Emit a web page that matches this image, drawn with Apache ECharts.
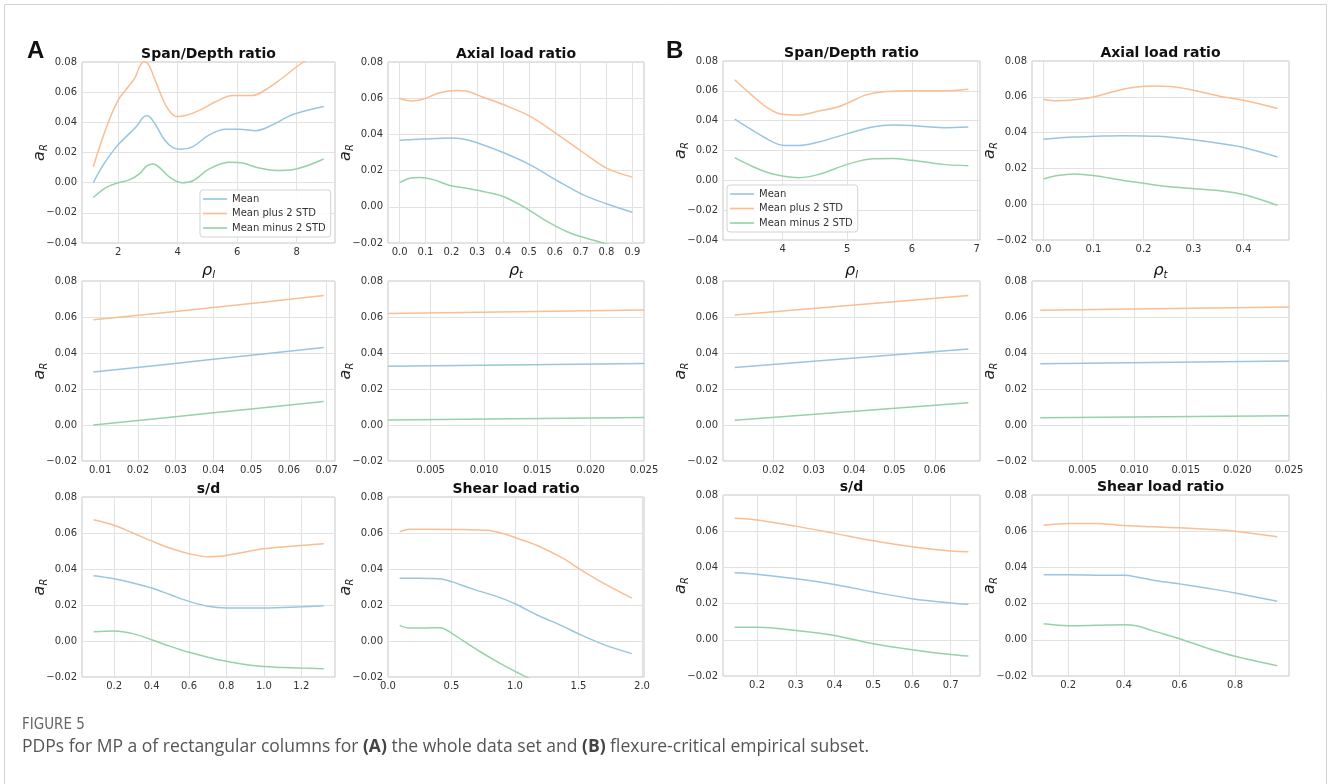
<!DOCTYPE html>
<html><head><meta charset="utf-8">
<script src="https://cdn.jsdelivr.net/npm/echarts@6/dist/echarts.min.js"></script>
<style>html,body{margin:0;padding:0;background:#fff}#c{width:1328px;height:784px}</style>
</head><body><div id="c"></div>
<script>
// ---------------- DATA ----------------
const seriesNames = ['Mean', 'Mean plus 2 STD', 'Mean minus 2 STD'];

// (A) whole data set
const A1_ticks = ['2','4','6','8'];
const A1_mean  = [[1.16,0.0],[1.5,0.012],[1.94,0.0239],[2.33,0.0317],[2.61,0.0372],[2.84,0.0434],[2.98,0.0443],[3.22,0.0394],[3.56,0.0283],[3.84,0.0232],[4.12,0.0221],[4.51,0.0239],[5.06,0.0317],[5.62,0.0354],[6.07,0.0354],[6.63,0.0345],[7.18,0.0383],[7.85,0.045],[8.91,0.0505]];
const A1_plus  = [[1.16,0.0106],[1.61,0.0372],[2.0,0.0549],[2.33,0.0634],[2.56,0.0694],[2.72,0.0771],[2.87,0.0802],[3.02,0.0782],[3.28,0.066],[3.62,0.0505],[3.95,0.0439],[4.29,0.0447],[4.73,0.0479],[5.29,0.0538],[5.85,0.0578],[6.52,0.0578],[6.96,0.0616],[7.52,0.0694],[8.08,0.078],[8.36,0.0815],[8.91,0.088]];
const A1_minus = [[1.16,-0.0098],[1.61,-0.0029],[2.0,0.0],[2.39,0.002],[2.72,0.006],[2.95,0.0109],[3.17,0.0124],[3.4,0.0098],[3.73,0.0036],[4.12,0.0],[4.51,0.0013],[5.06,0.0091],[5.73,0.0135],[6.18,0.013],[6.74,0.0097],[7.3,0.0081],[7.85,0.0086],[8.91,0.0157]];

const A2_ticks = ['0.0','0.1','0.2','0.3','0.4','0.5','0.6','0.7','0.8','0.9'];
const A2_mean  = [[0,0.0367],[0.09,0.0374],[0.194,0.038],[0.246,0.0374],[0.31,0.0348],[0.40,0.030],[0.505,0.0232],[0.61,0.0144],[0.71,0.0066],[0.80,0.0017],[0.9,-0.003]];
const A2_plus  = [[0,0.060],[0.045,0.0585],[0.09,0.0594],[0.155,0.063],[0.22,0.0642],[0.26,0.0638],[0.32,0.0607],[0.40,0.0565],[0.505,0.05],[0.61,0.040],[0.71,0.030],[0.80,0.0214],[0.9,0.0164]];
const A2_minus = [[0,0.0134],[0.04,0.0158],[0.078,0.0162],[0.13,0.015],[0.194,0.0118],[0.27,0.010],[0.336,0.0081],[0.40,0.0057],[0.48,0.0],[0.57,-0.008],[0.66,-0.0145],[0.75,-0.0185],[0.8,-0.0205],[0.9,-0.0245]];

const A3_ticks = ['0.01','0.02','0.03','0.04','0.05','0.06','0.07'];
const A3_mean  = [[0.0082,0.0294],[0.0387,0.0362],[0.0692,0.0430]];
const A3_plus  = [[0.0082,0.0585],[0.0387,0.0650],[0.0692,0.0720]];
const A3_minus = [[0.0082,0.0],[0.0387,0.0065],[0.0692,0.0130]];

const A4_ticks = ['0.005','0.010','0.015','0.020','0.025'];
const A4_mean  = [[0.001,0.0326],[0.025,0.0342]];
const A4_plus  = [[0.001,0.0620],[0.025,0.0639]];
const A4_minus = [[0.001,0.0028],[0.025,0.0041]];

const A5_ticks = ['0.2','0.4','0.6','0.8','1.0','1.2'];
const A5_mean  = [[0.09,0.0363],[0.2,0.0346],[0.3,0.0322],[0.4,0.0294],[0.5,0.0257],[0.6,0.022],[0.7,0.0193],[0.8,0.0183],[1.0,0.0183],[1.2,0.019],[1.32,0.0196]];
const A5_plus  = [[0.09,0.0674],[0.2,0.0643],[0.3,0.060],[0.4,0.0556],[0.5,0.0515],[0.6,0.0485],[0.7,0.0468],[0.78,0.0472],[0.9,0.0495],[1.0,0.0513],[1.2,0.0531],[1.32,0.054]];
const A5_minus = [[0.09,0.0052],[0.2,0.0056],[0.3,0.0041],[0.4,0.0007],[0.5,-0.003],[0.6,-0.0063],[0.7,-0.009],[0.8,-0.0113],[0.9,-0.013],[1.0,-0.0141],[1.2,-0.015],[1.32,-0.0154]];

const A6_ticks = ['0.0','0.5','1.0','1.5','2.0'];
const A6_mean  = [[0.092,0.0349],[0.33,0.0347],[0.42,0.0345],[0.5,0.033],[0.67,0.0288],[0.855,0.0248],[1.0,0.0207],[1.17,0.0146],[1.38,0.0081],[1.5,0.004],[1.7,-0.002],[1.92,-0.007]];
const A6_plus  = [[0.092,0.0606],[0.17,0.0621],[0.33,0.0621],[0.59,0.0619],[0.78,0.0615],[0.91,0.0596],[1.0,0.0575],[1.17,0.0532],[1.38,0.0459],[1.5,0.0404],[1.7,0.032],[1.92,0.0238]];
const A6_minus = [[0.092,0.0087],[0.17,0.0072],[0.28,0.0072],[0.41,0.0074],[0.5,0.0044],[0.59,0.0002],[0.72,-0.0057],[0.855,-0.0113],[1.0,-0.0169],[1.09,-0.02],[1.2,-0.024],[1.3,-0.027]];

// (B) flexure-critical empirical subset
const B1_ticks = ['4','5','6','7'];
const B1_mean  = [[3.26,0.0411],[3.52,0.034],[3.78,0.0273],[4.0,0.0235],[4.25,0.0233],[4.56,0.0257],[5.0,0.0313],[5.39,0.0358],[5.7,0.0371],[6.0,0.0367],[6.48,0.0353],[6.87,0.0358]];
const B1_plus  = [[3.26,0.0674],[3.52,0.0573],[3.78,0.0483],[4.0,0.0443],[4.25,0.0438],[4.56,0.0465],[4.82,0.0488],[5.0,0.0517],[5.29,0.0573],[5.6,0.0596],[6.0,0.06],[6.48,0.060],[6.87,0.0611]];
const B1_minus = [[3.26,0.0152],[3.52,0.0096],[3.78,0.0051],[4.0,0.0029],[4.25,0.0018],[4.56,0.004],[5.0,0.0107],[5.39,0.0145],[5.7,0.0147],[6.0,0.0134],[6.48,0.0107],[6.87,0.0098]];

const B2_ticks = ['0.0','0.1','0.2','0.3','0.4'];
const B2_mean  = [[0,0.0363],[0.061,0.0375],[0.1,0.0379],[0.16,0.0383],[0.23,0.0379],[0.3,0.036],[0.36,0.0336],[0.4,0.0317],[0.468,0.0264]];
const B2_plus  = [[0,0.0585],[0.028,0.0578],[0.061,0.0583],[0.097,0.0597],[0.135,0.0625],[0.175,0.065],[0.215,0.0661],[0.255,0.0658],[0.3,0.0637],[0.35,0.0605],[0.4,0.0581],[0.468,0.0535]];
const B2_minus = [[0,0.0141],[0.028,0.016],[0.061,0.0169],[0.1,0.016],[0.16,0.0132],[0.2,0.0117],[0.248,0.0099],[0.3,0.0086],[0.36,0.0073],[0.4,0.0054],[0.468,-0.0006]];

const B3_ticks = ['0.02','0.03','0.04','0.05','0.06'];
const B3_mean  = [[0.0104,0.0320],[0.0683,0.0422]];
const B3_plus  = [[0.0104,0.0611],[0.0683,0.0720]];
const B3_minus = [[0.0104,0.0027],[0.0683,0.0124]];

const B4_ticks = ['0.005','0.010','0.015','0.020','0.025'];
const B4_mean  = [[0.0009,0.0340],[0.025,0.0356]];
const B4_plus  = [[0.0009,0.0637],[0.025,0.0655]];
const B4_minus = [[0.0009,0.0040],[0.025,0.0051]];

const B5_ticks = ['0.2','0.3','0.4','0.5','0.6','0.7'];
const B5_mean  = [[0.142,0.037],[0.2,0.0362],[0.3,0.0337],[0.4,0.0306],[0.5,0.0264],[0.6,0.0227],[0.7,0.0203],[0.746,0.0196]];
const B5_plus  = [[0.142,0.0671],[0.2,0.0662],[0.3,0.0628],[0.4,0.0588],[0.5,0.0547],[0.6,0.0514],[0.7,0.049],[0.746,0.0486]];
const B5_minus = [[0.142,0.007],[0.2,0.007],[0.3,0.0052],[0.4,0.0024],[0.5,-0.0022],[0.6,-0.0055],[0.7,-0.0081],[0.746,-0.009]];

const B6_ticks = ['0.2','0.4','0.6','0.8'];
const B6_mean  = [[0.112,0.0359],[0.2,0.0359],[0.3,0.0357],[0.4,0.0356],[0.45,0.0346],[0.5,0.0331],[0.6,0.0309],[0.7,0.0285],[0.8,0.0259],[0.952,0.0213]];
const B6_plus  = [[0.112,0.0633],[0.2,0.0643],[0.3,0.0643],[0.4,0.0631],[0.5,0.0624],[0.6,0.0619],[0.7,0.0611],[0.8,0.060],[0.952,0.0569]];
const B6_minus = [[0.112,0.0089],[0.2,0.0078],[0.3,0.008],[0.4,0.0083],[0.45,0.0076],[0.5,0.0052],[0.6,0.0006],[0.7,-0.0046],[0.8,-0.0091],[0.952,-0.0143]];

// ---------------- PANELS (axis ranges + layout) ----------------
const TITLE_BOLD = 'b', TITLE_RHO_L = 'rl', TITLE_RHO_T = 'rt';
const panels = [
  {title:'Span/Depth ratio', kind:TITLE_BOLD, xmin:0.78, xmax:9.29, ymin:-0.04, ticks:A1_ticks, d:[A1_mean,A1_plus,A1_minus], g:[82,62,253,181], ty:61},
  {title:'Axial load ratio', kind:TITLE_BOLD, xmin:-0.045, xmax:0.945, ymin:-0.02, ticks:A2_ticks, d:[A2_mean,A2_plus,A2_minus], g:[388,62,256,181], ty:61},
  {title:'', kind:TITLE_RHO_L, xmin:0.0052, xmax:0.0722, ymin:-0.02, ticks:A3_ticks, d:[A3_mean,A3_plus,A3_minus], g:[82,281,253,180], ty:280},
  {title:'', kind:TITLE_RHO_T, xmin:0.001, xmax:0.025, ymin:-0.02, ticks:A4_ticks, d:[A4_mean,A4_plus,A4_minus], g:[388,281,256,180], ty:280},
  {title:'s/d', kind:TITLE_BOLD, xmin:0.028, xmax:1.38, ymin:-0.02, ticks:A5_ticks, d:[A5_mean,A5_plus,A5_minus], g:[82,497,253,180], ty:496},
  {title:'Shear load ratio', kind:TITLE_BOLD, xmin:0.0, xmax:2.016, ymin:-0.02, ticks:A6_ticks, d:[A6_mean,A6_plus,A6_minus], g:[388,497,256,180], ty:496},
  {title:'Span/Depth ratio', kind:TITLE_BOLD, xmin:3.08, xmax:7.05, ymin:-0.04, ticks:B1_ticks, d:[B1_mean,B1_plus,B1_minus], g:[723,61,257,179], ty:60},
  {title:'Axial load ratio', kind:TITLE_BOLD, xmin:-0.023, xmax:0.491, ymin:-0.02, ticks:B2_ticks, d:[B2_mean,B2_plus,B2_minus], g:[1032,61,257,179], ty:60},
  {title:'', kind:TITLE_RHO_L, xmin:0.0075, xmax:0.0712, ymin:-0.02, ticks:B3_ticks, d:[B3_mean,B3_plus,B3_minus], g:[723,281,257,180], ty:280},
  {title:'', kind:TITLE_RHO_T, xmin:0.0001, xmax:0.025, ymin:-0.02, ticks:B4_ticks, d:[B4_mean,B4_plus,B4_minus], g:[1032,281,257,180], ty:280},
  {title:'s/d', kind:TITLE_BOLD, xmin:0.112, xmax:0.776, ymin:-0.02, ticks:B5_ticks, d:[B5_mean,B5_plus,B5_minus], g:[723,495,257,181], ty:494},
  {title:'Shear load ratio', kind:TITLE_BOLD, xmin:0.07, xmax:0.994, ymin:-0.02, ticks:B6_ticks, d:[B6_mean,B6_plus,B6_minus], g:[1032,495,257,181], ty:494}
];

const COLORS = ['#98c5e1', '#fbbd91', '#95d2a8'];
const FONT = '"DejaVu Sans", sans-serif';
const fmtY = v => (v < -1e-9 ? '\u2212' : '') + Math.abs(v).toFixed(2);

const grids = [], xAxes = [], yAxes = [], series = [], graphics = [];
panels.forEach((p, i) => {
  const [l, t, w, h] = p.g;
  grids.push({left:l, top:t, width:w, height:h, show:true, borderColor:'#c7c7c7', borderWidth:1, backgroundColor:'transparent'});
  const tv = p.ticks.map(Number);
  xAxes.push({
    type:'value', gridIndex:i, min:p.xmin, max:p.xmax,
    axisLine:{show:false}, axisTick:{show:false, customValues:tv},
    axisLabel:{customValues:tv, color:'#333', fontSize:10, fontFamily:FONT, margin:4,
      formatter: v => { const k = tv.findIndex(x => Math.abs(x - v) < 1e-9); return k >= 0 ? p.ticks[k] : ''; }},
    splitLine:{show:true, lineStyle:{color:'#e2e2e2', width:1}}
  });
  yAxes.push({
    type:'value', gridIndex:i, min:p.ymin, max:0.08, interval:0.02,
    axisLine:{show:false}, axisTick:{show:false},
    axisLabel:{color:'#333', fontSize:10, fontFamily:FONT, margin:5, formatter: fmtY},
    splitLine:{show:true, lineStyle:{color:'#e2e2e2', width:1}},
    name:'{a|a}{s|R}', nameLocation:'middle', nameRotate:90, nameGap:33, nameMoveOverlap:false,
    nameTextStyle:{rich:{
      a:{fontFamily:FONT, fontStyle:'italic', fontSize:16, color:'#222', lineHeight:18, verticalAlign:'middle'},
      s:{fontFamily:FONT, fontStyle:'italic', fontSize:10, color:'#222', lineHeight:18, verticalAlign:'bottom'}
    }}
  });
  p.d.forEach((arr, k) => {
    series.push({
      name:seriesNames[k], type:'line', xAxisIndex:i, yAxisIndex:i, data:arr,
      showSymbol:false, symbol:'none', smooth:0.35, clip:true,
      lineStyle:{color:COLORS[k], width:1.5}, itemStyle:{color:COLORS[k]}, z:2+k
    });
  });
  const cx = l + w / 2;
  if (p.kind === TITLE_BOLD) {
    graphics.push({type:'text', x:cx, y:p.ty, style:{text:p.title, fill:'#111', font:'bold 14px ' + FONT, align:'center', verticalAlign:'bottom'}});
  } else {
    const sub = p.kind === TITLE_RHO_L ? 'l' : 't';
    graphics.push({type:'text', x:cx, y:p.ty, style:{text:'{r|\u03c1}{s|' + sub + '}', align:'center', verticalAlign:'bottom',
      rich:{ r:{fontFamily:FONT, fontStyle:'italic', fontSize:16, fill:'#111', lineHeight:18, verticalAlign:'middle'},
             s:{fontFamily:FONT, fontStyle:'italic', fontSize:10, fill:'#111', lineHeight:18, verticalAlign:'bottom'} }}});
  }
});

// figure frame, panel letters, caption
graphics.push({type:'rect', shape:{x:4.5, y:4.5, width:1322, height:900}, style:{fill:'none', stroke:'#d2d2d2', lineWidth:1}, silent:true});
graphics.push({type:'text', x:27, y:39, style:{text:'A', font:'bold 24px "Liberation Sans", Arial, sans-serif', fill:'#111'}});
graphics.push({type:'text', x:666, y:39, style:{text:'B', font:'bold 24px "Liberation Sans", Arial, sans-serif', fill:'#111'}});
graphics.push({type:'text', x:22, y:725, style:{text:'FIGURE 5', font:'15px "Liberation Sans Narrow", "DejaVu Sans Condensed", sans-serif', fill:'#666', verticalAlign:'middle'}});
graphics.push({type:'text', x:22, y:747, style:{
  text:'PDPs for MP a of rectangular columns for {b|(A)} the whole data set and {b|(B)} flexure-critical empirical subset.',
  font:'17.5px "Open Sans", sans-serif', fill:'#555', verticalAlign:'middle',
  rich:{b:{fontFamily:'"Open Sans", sans-serif', fontWeight:'bold', fontSize:17.5, fill:'#444'}}}});

const legendBase = {
  data:seriesNames, orient:'vertical', icon:'rect', itemWidth:24, itemHeight:1.6, itemGap:2.5,
  padding:[3,5,3,3], backgroundColor:'rgba(255,255,255,0.85)', borderColor:'#d3d3d3', borderWidth:1, borderRadius:3,
  textStyle:{fontFamily:FONT, fontSize:10, color:'#333', lineHeight:12}, selectedMode:false
};

const chart = echarts.init(document.getElementById('c'), null, {renderer:'canvas'});
chart.setOption({
  animation:false,
  backgroundColor:'#fff',
  grid:grids, xAxis:xAxes, yAxis:yAxes, series:series,
  legend:[Object.assign({left:200, top:190}, legendBase), Object.assign({left:727, top:185}, legendBase)],
  graphic:graphics
});
</script></body></html>
